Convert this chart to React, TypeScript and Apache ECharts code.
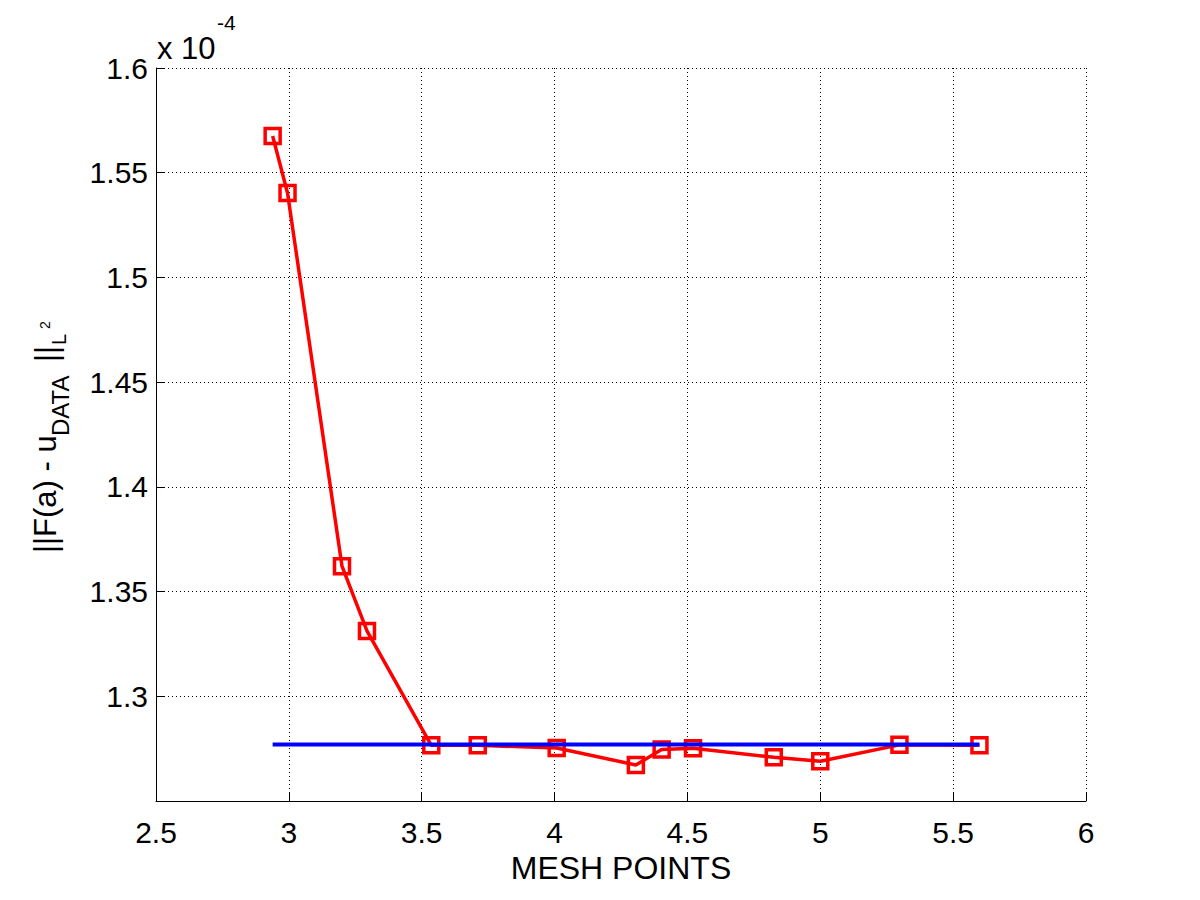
import React, { useEffect, useRef } from "react";
import * as echarts from "echarts";

// Data
const meshX = [2.939, 2.995, 3.2, 3.294, 3.536, 3.711, 4.008, 4.306, 4.403, 4.521, 4.825, 5.0, 5.298, 5.599];
const errorY = [1.5675, 1.5403, 1.3621, 1.3312, 1.2766, 1.2766, 1.2753, 1.2672, 1.2746, 1.2752, 1.2709, 1.269, 1.2768, 1.2766];
const refX = [2.939, 5.599];
const refY = [1.277, 1.277];

const xMin = 2.5;
const xMax = 6;
const xStep = 0.5;
const yMin = 1.25;
const yMax = 1.6;
const yStep = 0.05;

const FONT = "'Liberation Sans', Arial, Helvetica, sans-serif";

function fmt(v: number): string {
  return String(Number(v.toFixed(2)));
}

export default function App() {
  const ref = useRef<HTMLDivElement | null>(null);

  useEffect(() => {
    if (!ref.current) return;
    const chart = echarts.init(ref.current, null, { renderer: "svg" });
    const dotted = { color: "#000", width: 1, type: [1, 3] as any };
    const txt = (text: string, x: number, y: number, size: number) => ({
      type: "text",
      x,
      y,
      rotation: Math.PI / 2,
      style: {
        text,
        fill: "#000",
        font: `${size}px ${FONT}`,
        align: "left",
        verticalAlign: "middle",
      },
    });
    chart.setOption({
      animation: false,
      backgroundColor: "#fff",
      grid: { left: 156, right: 114, top: 68, bottom: 99, containLabel: false },
      xAxis: {
        type: "value",
        min: xMin,
        max: xMax,
        interval: xStep,
        name: "MESH POINTS",
        nameLocation: "middle",
        nameGap: 48,
        nameTextStyle: { color: "#000", fontSize: 32, fontFamily: FONT },
        axisLine: { show: true, onZero: false, lineStyle: { color: "#000", width: 1 } },
        axisTick: { show: true, inside: true, length: 9, lineStyle: { color: "#000", width: 1 } },
        axisLabel: { color: "#000", fontSize: 30, fontFamily: FONT, margin: 16, formatter: (v: number) => fmt(v) },
        splitLine: { show: true, lineStyle: dotted },
      },
      yAxis: {
        type: "value",
        min: yMin,
        max: yMax,
        interval: yStep,
        axisLine: { show: true, onZero: false, lineStyle: { color: "#000", width: 1 } },
        axisTick: { show: true, inside: true, length: 9, lineStyle: { color: "#000", width: 1 } },
        axisLabel: {
          color: "#000",
          fontSize: 30,
          fontFamily: FONT,
          margin: 8,
          formatter: (v: number) => (v < yMin + yStep / 2 ? "" : fmt(v)),
        },
        splitLine: { show: true, lineStyle: dotted },
      },
      graphic: [
        {
          type: "text",
          left: 157,
          top: 33,
          style: { text: "x 10", fill: "#000", font: `31px ${FONT}` },
        },
        {
          type: "text",
          left: 217,
          top: 12,
          style: { text: "-4", fill: "#000", font: `21px ${FONT}` },
        },
        txt("||F(a) - u", 45, 553, 31),
        txt("DATA", 60, 436, 24),
        txt("||", 46, 362, 31),
        txt("L", 59, 345, 20),
        txt("2", 45, 329, 14),
      ],
      series: [
        {
          type: "line",
          data: meshX.map((x, i) => [x, errorY[i]]),
          symbol: "rect",
          symbolSize: 15,
          showSymbol: true,
          lineStyle: { color: "#ff0000", width: 3.5 },
          itemStyle: { color: "rgba(255,255,255,0)", borderColor: "#ff0000", borderWidth: 3.5 },
          z: 2,
        },
        {
          type: "line",
          data: refX.map((x, i) => [x, refY[i]]),
          symbol: "none",
          lineStyle: { color: "#0000ff", width: 4 },
          z: 3,
        },
      ],
    });
    return () => chart.dispose();
  }, []);

  return (
    <div
      ref={ref}
      style={{ position: "fixed", left: 0, top: 0, width: 1200, height: 900, background: "#fff" }}
    />
  );
}
